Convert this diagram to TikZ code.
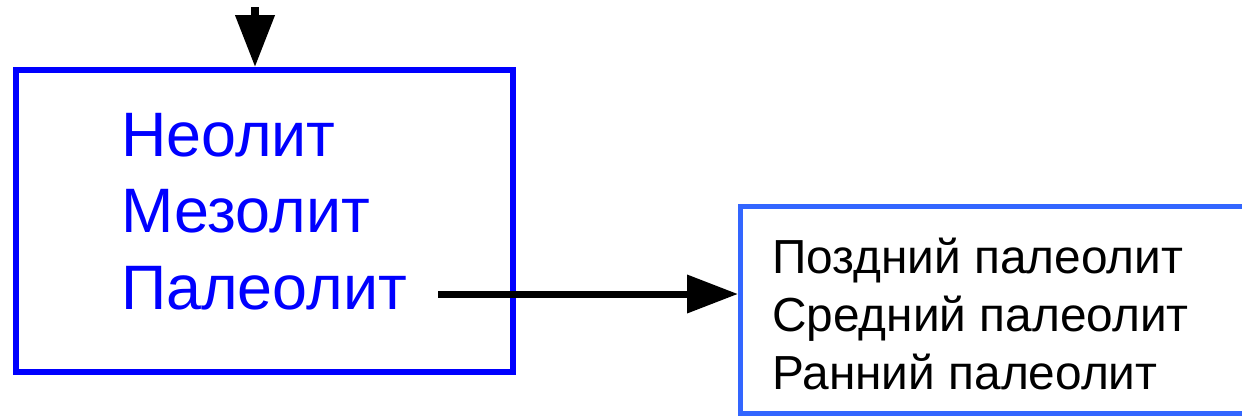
\documentclass[tikz,border=0pt]{standalone}
\usepackage{fontspec}
\setmainfont{Liberation Sans}
\usetikzlibrary{arrows.meta}
\definecolor{pureblue}{RGB}{0,0,255}
\definecolor{lightblue}{RGB}{51,102,255}
\begin{document}
\begin{tikzpicture}[x=1pt,y=-1pt,
  bigtxt/.style={inner sep=0pt,anchor=base west,text=pureblue,font=\fontsize{62.8}{76}\selectfont},
  smalltxt/.style={inner sep=0pt,anchor=base west,text=black,font=\fontsize{47.8}{57}\selectfont},
  conn/.style={line width=7pt,draw=black,-{Triangle[length=51pt,width=37pt]}}]
\useasboundingbox (0,0) rectangle (1242,415);
\clip (0,0) rectangle (1242,415);
% left box
\node[draw=pureblue,line width=5.5pt,minimum width=497pt,minimum height=302pt,inner sep=0pt,anchor=north west] (lbox) at (13,67) {};
\node[bigtxt] (l1) at (121,156) {Неолит};
\node[bigtxt] (l2) at (121,232) {Мезолит};
\node[bigtxt] (l3) at (121,309) {Палеолит};
% right box (extends past the right margin)
\node[draw=lightblue,line width=5pt,minimum width=560pt,minimum height=207pt,inner sep=0pt,anchor=north west] (rbox) at (738,204) {};
\node[smalltxt] (r1) at (772,273) {Поздний палеолит};
\node[smalltxt] (r2) at (772,331) {Средний палеолит};
\node[smalltxt] (r3) at (772,389) {Ранний палеолит};
% connectors
\coordinate (astart) at (438,294);
\draw[conn] (astart) -- (rbox.west |- astart);
\coordinate (tstart) at (255,7);
\draw[line width=7.5pt,-{Triangle[length=52pt,width=38pt]}] (tstart) -- (lbox.north -| tstart);
\end{tikzpicture}
\end{document}
